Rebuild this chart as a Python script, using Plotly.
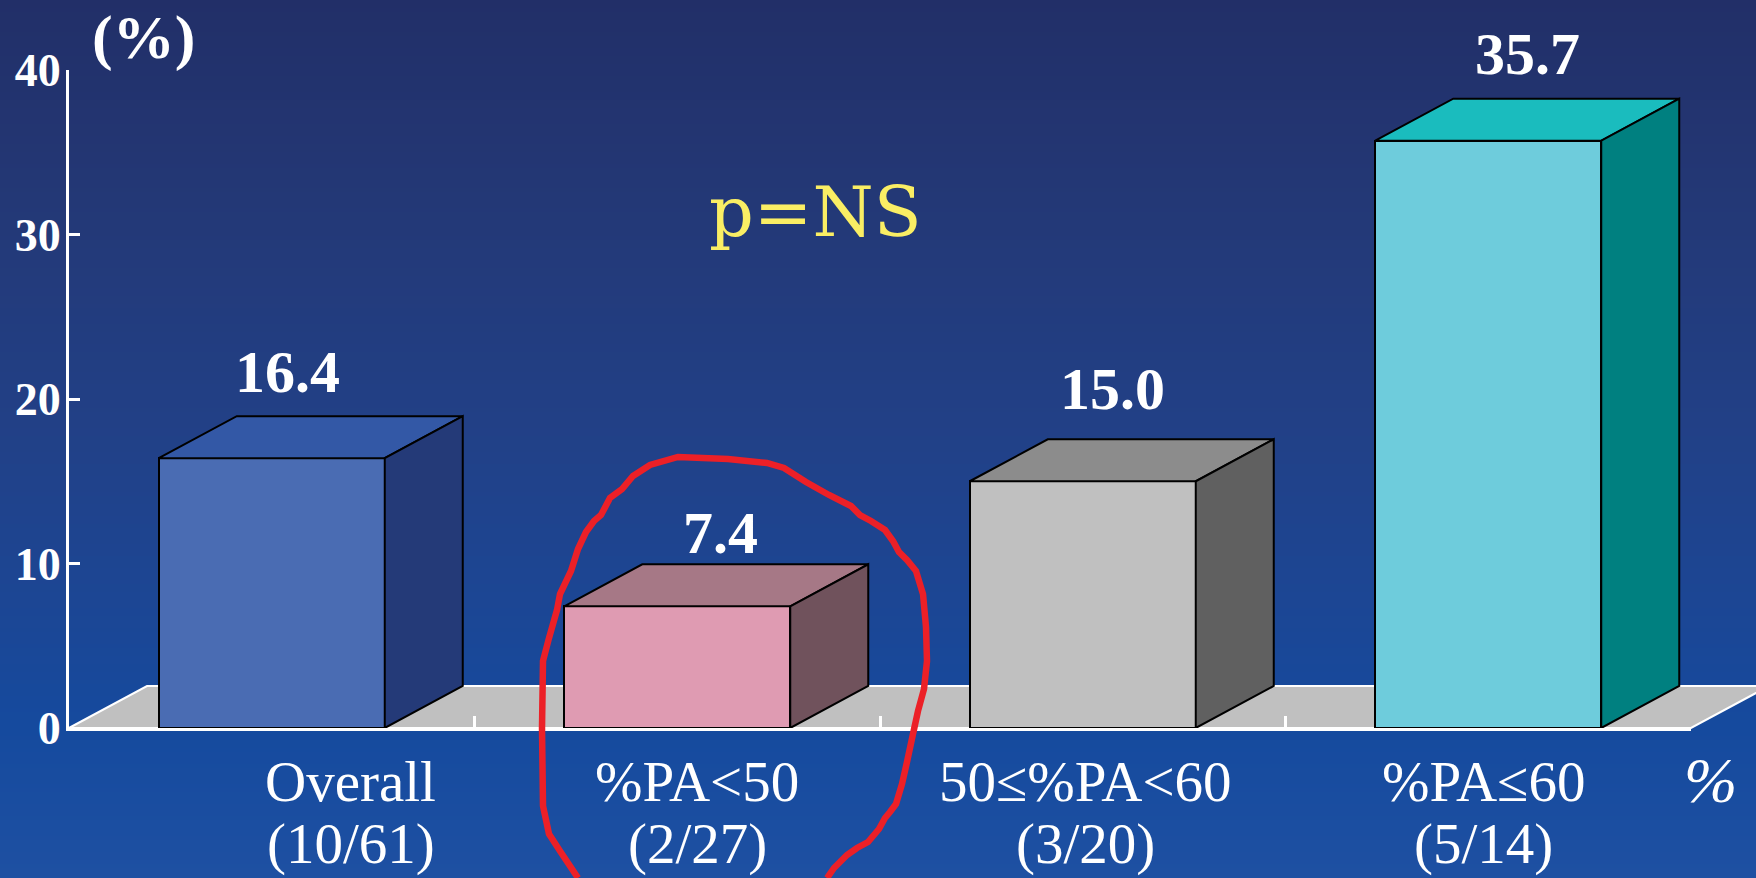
import plotly.graph_objects as go

# ---- data -------------------------------------------------------------
categories = ["Overall", "%PA<50", "50≤%PA<60", "%PA≤60"]
counts = ["(10/61)", "(2/27)", "(3/20)", "(5/14)"]
rates = [16.4, 7.4, 15.0, 35.7]
y_tick_values = [0, 10, 20, 30, 40]

# ---- styling ----------------------------------------------------------
front_colors = ["#4A6CB3", "#DF9BB2", "#C0C0C0", "#6ECCDC"]
top_colors = ["#3358A6", "#A67886", "#8C8C8C", "#1ABCBE"]
side_colors = ["#243A78", "#70525C", "#606060", "#008080"]

W, H = 1756, 878
X0, X1 = 69, 1691          # pixel columns of the x-range ends
Y0, Y1 = 728, 70           # pixel rows of y=0 and y=40
x_range = [-0.5, 3.5]
y_range = [0, 40]
x_dom = [X0 / W, X1 / W]
y_dom = [(H - Y0) / H, (H - Y1) / H]
px_per_x = (X1 - X0) / (x_range[1] - x_range[0])
px_per_y = (Y0 - Y1) / (y_range[1] - y_range[0])

DEPTH_PX = (78, 42)                     # oblique depth of the 3-D boxes
DX = DEPTH_PX[0] / px_per_x
DY = DEPTH_PX[1] / px_per_y
BAR_W = 226 / px_per_x

SERIF = "Liberation Serif, Times New Roman, serif"
WIDE_SERIF = "DejaVu Serif, serif"
LABEL_SIZE = 57


def paper(px, py):
    return px / W, 1 - py / H


# ---- background gradient ---------------------------------------------
bg_stops = [(0, (34, 47, 104)), (200, (35, 56, 118)), (420, (34, 64, 134)),
            (600, (28, 70, 148)), (728, (21, 74, 158)), (878, (30, 80, 162))]


def bg_color(py):
    for (a, ca), (b, cb) in zip(bg_stops[:-1], bg_stops[1:]):
        if a <= py <= b:
            t = (py - a) / (b - a)
            c = [round(ca[k] + (cb[k] - ca[k]) * t) for k in range(3)]
            return "rgb(%d,%d,%d)" % tuple(c)
    return "rgb(%d,%d,%d)" % bg_stops[-1][1]


shapes = []
band = 4
for py in range(0, H, band):
    shapes.append(dict(type="rect", xref="paper", yref="paper", layer="below",
                       x0=0, x1=1, y0=1 - (py + band + 1) / H, y1=1 - py / H,
                       fillcolor=bg_color(py + band / 2), line=dict(width=0)))

# grey floor under the boxes
floor_px = [(X0, Y0), (X1, Y0), (X1 + DEPTH_PX[0], Y0 - DEPTH_PX[1]),
            (X0 + DEPTH_PX[0], Y0 - DEPTH_PX[1])]
floor_path = "M " + " L ".join("%.5f,%.5f" % paper(*p) for p in floor_px) + " Z"
shapes.append(dict(type="path", xref="paper", yref="paper", layer="below",
                   path=floor_path, fillcolor="#C0C0C0",
                   line=dict(color="white", width=2)))

# hand-drawn red loop around the second group
loop_px = [(578, 878), (560, 851), (549, 834), (543, 806), (542, 728), (543, 661),
           (549, 638), (557, 610), (560, 594), (571, 571), (578, 549), (586, 532),
           (594, 521), (601, 515), (610, 498), (622, 489), (633, 476), (650, 465),
           (678, 457), (728, 459), (767, 463), (784, 468), (806, 482), (829, 495),
           (851, 506), (860, 515), (871, 521), (885, 530), (893, 541), (899, 552),
           (907, 560), (916, 571), (923, 594), (926, 627), (927, 661), (924, 689),
           (918, 711), (913, 734), (907, 762), (902, 784), (896, 804), (890, 812),
           (885, 818), (879, 829), (868, 842), (857, 848), (847, 855), (840, 862),
           (834, 868), (827, 878)]
loop_path = "M " + " L ".join("%.5f,%.5f" % paper(*p) for p in loop_px)
shapes.append(dict(type="path", xref="paper", yref="paper", layer="above",
                   path=loop_path, line=dict(color="#EC2027", width=6.5)))

# ---- traces -----------------------------------------------------------
fig = go.Figure()

xs = list(range(len(rates)))
fig.add_trace(go.Bar(
    x=xs, y=rates, width=BAR_W,
    marker=dict(color=front_colors, line=dict(color="black", width=2)),
    hoverinfo="skip", showlegend=False))

for i, v in enumerate(rates):
    left, right = i - BAR_W / 2, i + BAR_W / 2
    # top face
    fig.add_trace(go.Scatter(
        x=[left, right, right + DX, left + DX, left],
        y=[v, v, v + DY, v + DY, v],
        mode="lines", fill="toself", fillcolor=top_colors[i],
        line=dict(color="black", width=2), hoverinfo="skip", showlegend=False))
    # side face
    fig.add_trace(go.Scatter(
        x=[right, right + DX, right + DX, right, right],
        y=[0, DY, v + DY, v, 0],
        mode="lines", fill="toself", fillcolor=side_colors[i],
        line=dict(color="black", width=2), hoverinfo="skip", showlegend=False))

# ---- annotations ------------------------------------------------------
annotations = []

value_xshift = [-23, 4, -9, 0]
value_yshift = [9, -4, 15, 10]
for i, v in enumerate(rates):
    annotations.append(dict(
        x=i + DX / 2, y=v + DY, xref="x", yref="y", text="<b>%.1f</b>" % v,
        showarrow=False, xanchor="center", yanchor="bottom",
        xshift=value_xshift[i], yshift=value_yshift[i],
        font=dict(family=SERIF, size=60, color="white")))

label_xshift = [79, 20, 3, -5]
for i, (name, cnt) in enumerate(zip(categories, counts)):
    annotations.append(dict(
        x=i, y=1 - 814.5 / H, xref="x", yref="paper", text=name,
        showarrow=False, xanchor="center", yanchor="bottom",
        xshift=label_xshift[i],
        font=dict(family=SERIF, size=LABEL_SIZE, color="white")))
    annotations.append(dict(
        x=i, y=0, xref="x", yref="paper", text=cnt,
        showarrow=False, xanchor="center", yanchor="bottom",
        xshift=label_xshift[i],
        font=dict(family=SERIF, size=LABEL_SIZE, color="white")))

px_, py_ = paper(143, 74)
annotations.append(dict(x=px_, y=py_, xref="paper", yref="paper",
                        text="<b>(%)</b>", showarrow=False,
                        xanchor="center", yanchor="bottom",
                        font=dict(family=SERIF, size=62, color="white")))

px_, py_ = paper(815, 255)
annotations.append(dict(x=px_, y=py_, xref="paper", yref="paper",
                        text="p=NS", showarrow=False,
                        xanchor="center", yanchor="bottom",
                        font=dict(family=WIDE_SERIF, size=70, color="#FAEE64")))

px_, py_ = paper(1710, 818)
annotations.append(dict(x=px_, y=py_, xref="paper", yref="paper",
                        text="<i>%</i>", showarrow=False,
                        xanchor="center", yanchor="bottom",
                        font=dict(family=SERIF, size=64, color="white")))

# ---- layout -----------------------------------------------------------
fig.update_layout(
    width=W, height=H,
    margin=dict(l=0, r=0, t=0, b=0, autoexpand=False),
    paper_bgcolor=bg_color(0),
    plot_bgcolor="rgba(0,0,0,0)",
    shapes=shapes,
    annotations=annotations,
    bargap=0,
    xaxis=dict(domain=x_dom, range=x_range, showgrid=False, zeroline=False,
               automargin=False,
               showline=True, linecolor="white", linewidth=3,
               tickmode="array", tickvals=[0.5, 1.5, 2.5, 3.5],
               showticklabels=False, ticks="inside", ticklen=12,
               tickwidth=3, tickcolor="white", fixedrange=True),
    yaxis=dict(domain=y_dom, range=y_range, showgrid=False, zeroline=False,
               automargin=False,
               showline=True, linecolor="white", linewidth=3,
               tickmode="array", tickvals=y_tick_values,
               ticktext=["<b>%d</b>" % t for t in y_tick_values],
               ticks="inside", ticklen=11, tickwidth=3, tickcolor="white",
               ticklabelstandoff=-4,
               tickfont=dict(family=SERIF, size=46, color="white"),
               fixedrange=True),
)

fig.write_html("out.html")
